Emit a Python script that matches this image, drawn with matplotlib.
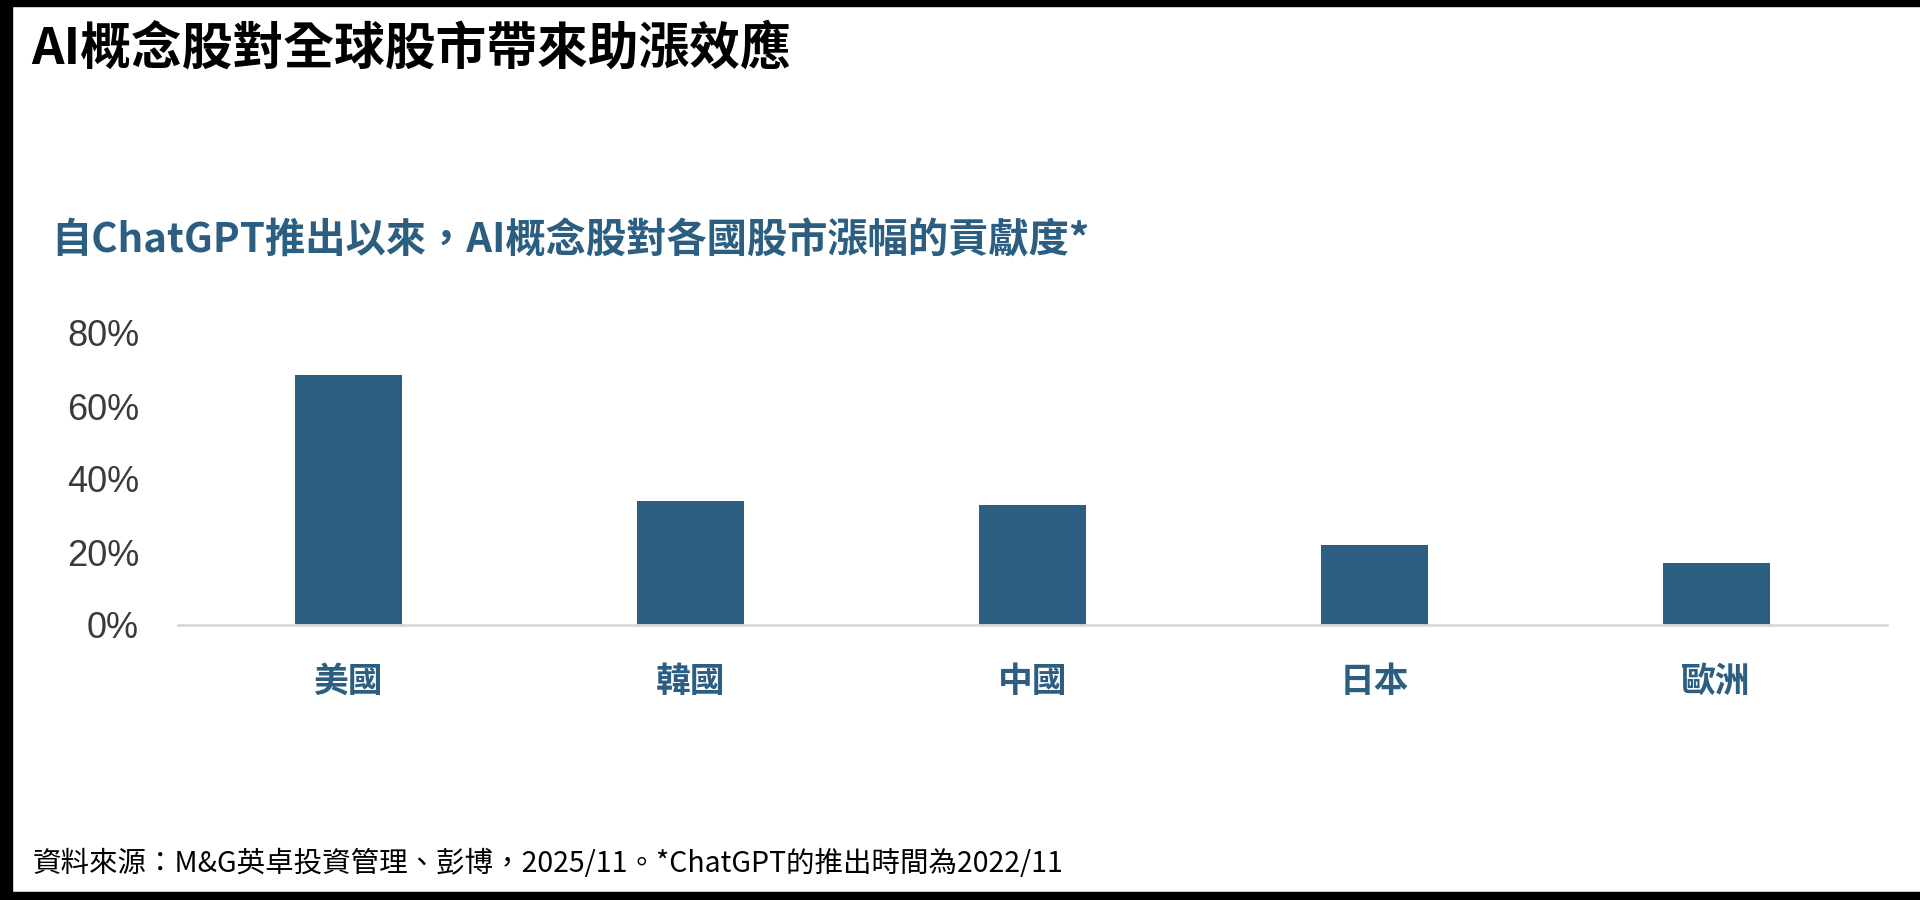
import matplotlib
matplotlib.use("Agg")
import matplotlib.pyplot as plt
from matplotlib.patches import Rectangle
from matplotlib.ticker import FuncFormatter

# data
categories = ["美國", "韓國", "中國", "日本", "歐洲"]
contribution = [68.5, 34, 33, 22, 17]  # % of index gain from AI stocks
y_ticks = [0, 20, 40, 60, 80]

title = "AI概念股對全球股市帶來助漲效應"
subtitle = "自ChatGPT推出以來，AI概念股對各國股市漲幅的貢獻度*"
footnote = "資料來源：M&G英卓投資管理、彭博，2025/11。*ChatGPT的推出時間為2022/11"

BAR_COLOR = "#2b5e80"
CJK = ["Noto Sans CJK TC", "DejaVu Sans"]

plt.rcParams["font.family"] = CJK

W, H = 1920, 900
fig = plt.figure(figsize=(W / 100, H / 100), dpi=100, facecolor="white")

# plot area
ax = fig.add_axes([178 / W, 1 - 625 / H, (1887 - 178) / W, (625 - 333) / H])
ax.bar(range(len(categories)), contribution, width=0.313, color=BAR_COLOR, zorder=2)
ax.set_xlim(-0.5, len(categories) - 0.5)
ax.set_ylim(0, 80)

for side in ["top", "right", "left"]:
    ax.spines[side].set_visible(False)
ax.spines["bottom"].set_color("#d9d9d9")
ax.spines["bottom"].set_linewidth(2)

ax.set_yticks(y_ticks)
ax.yaxis.set_major_formatter(FuncFormatter(lambda v, _: f"{v:.0f}%"))
ax.tick_params(axis="y", length=0, pad=28, labelsize=26, labelcolor="#3a3a3a")
for lbl in ax.get_yticklabels():
    lbl.set_fontfamily(["Liberation Sans", "DejaVu Sans"])

ax.set_xticks(range(len(categories)))
ax.set_xticklabels(categories, fontsize=25, fontweight="bold", color=BAR_COLOR)
ax.tick_params(axis="x", length=0, pad=28)

# texts
fig.text(31 / W, 1 - 49 / H, title, fontsize=36.5, fontweight="bold",
         color="black", va="center", ha="left")
fig.text(51 / W, 1 - 241 / H, subtitle, fontsize=29, fontweight="bold",
         color=BAR_COLOR, va="center", ha="left")
fig.text(33 / W, 1 - 864 / H, footnote, fontsize=20.5, color="black",
         va="center", ha="left")

# black frame edges as in the screenshot
fig.patches.append(Rectangle((0, 0), 12 / W, 1, transform=fig.transFigure,
                             color="black", zorder=10))
fig.patches.append(Rectangle((0, 1 - 6 / H), 1, 6 / H, transform=fig.transFigure,
                             color="black", zorder=10))
fig.patches.append(Rectangle((0, 0), 1, 8 / H, transform=fig.transFigure,
                             color="black", zorder=10))

fig.savefig("out.png", dpi=100, facecolor="white")
